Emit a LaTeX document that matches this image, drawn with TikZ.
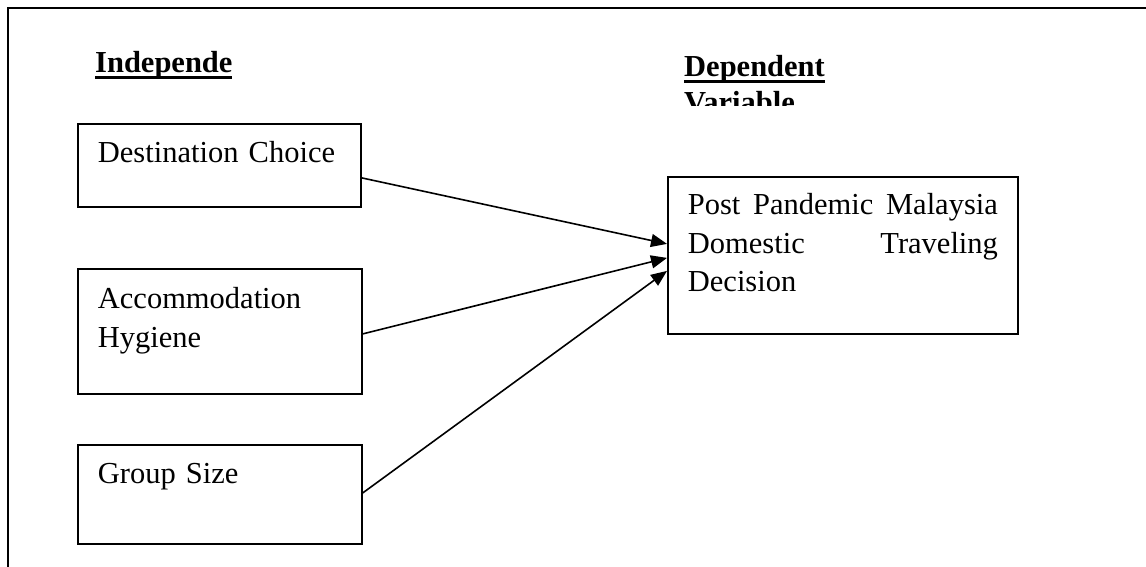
\documentclass[tikz,border=0pt]{standalone}
\usepackage{fontspec}
\setmainfont{Liberation Serif}
\usetikzlibrary{arrows.meta}

% heading with a word-style underline
\newcommand{\headul}[1]{\setbox0\hbox{\textbf{#1}}\rlap{\rule[-6.5pt]{\wd0}{3.5pt}}\box0}

\tikzset{
  varbox/.style={draw, line width=1.8pt, anchor=north west, inner xsep=20pt, inner ysep=0pt,
    align=left, font=\fontsize{30.5}{38.5}\selectfont},
  heading/.style={anchor=base west, inner sep=0pt, font=\fontsize{30.5}{38.5}\selectfont},
  link/.style={line width=1.6pt, -{Triangle[length=16pt,width=13pt]}},
}

\begin{document}
\begin{tikzpicture}[x=1pt, y=-1pt]
\useasboundingbox (0,0) rectangle (1146,567);
\draw[line width=1.8pt] (8,567) -- (8,8) -- (1146,8);

\node[heading] (indep) at (95,73) {\headul{Independe}};
\begin{scope}
  \clip (600,40) rectangle (900,106);
  \node[heading] (dephead) at (684,76.7) {\headul{Dependent}};
  \node[heading] (varhead) at ([yshift=-36pt]dephead.base west) {\textbf{Variable}};
\end{scope}

\node[varbox, text width=243pt, text height=39pt, text depth=44pt] (dest) at (77,123) {Destination Choice};
\node[varbox, text width=244pt, text height=40pt, text depth=85pt] (accom) at (77,268) {Accommodation\\Hygiene};
\node[varbox, text width=244pt, text height=39pt, text depth=60pt] (group) at (77,444) {Group Size};

\node[varbox, text width=310pt, text height=38pt, text depth=119pt] (dep) at (667,176)
  {\makebox[310pt][l]{Post\hfill Pandemic\hfill Malaysia}\\\makebox[310pt][l]{Domestic\hfill Traveling}\\Decision};

\draw[link] ([yshift=-12.5pt]dest.east) -- ([yshift=11.5pt]dep.west);
\draw[link] ([yshift=-2.5pt]accom.east) -- ([yshift=-2.5pt]dep.west);
\draw[link] ([yshift=1.5pt]group.east) -- ([yshift=-15.5pt]dep.west);
\end{tikzpicture}
\end{document}
